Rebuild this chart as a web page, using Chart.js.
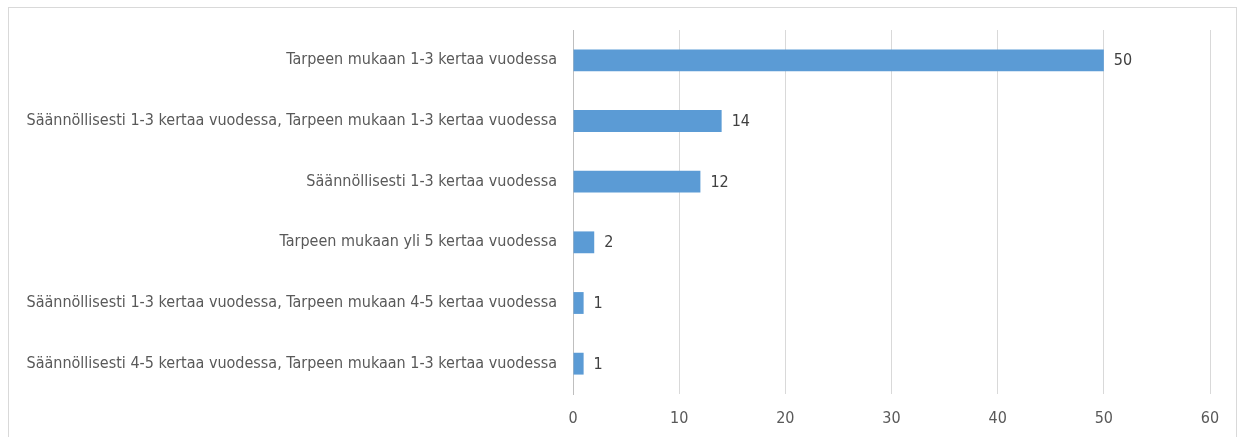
<!DOCTYPE html>
<html>
<head>
<meta charset="utf-8">
<script src="https://cdn.jsdelivr.net/npm/chart.js@4"></script>
<style>
  html, body { margin: 0; padding: 0; background: #fff; overflow: hidden; }
</style>
</head>
<body>
<canvas id="freq" width="1245" height="437"></canvas>
<script>
const categories = [
  'Tarpeen mukaan 1-3 kertaa vuodessa',
  'Säännöllisesti 1-3 kertaa vuodessa, Tarpeen mukaan 1-3 kertaa vuodessa',
  'Säännöllisesti 1-3 kertaa vuodessa',
  'Tarpeen mukaan yli 5 kertaa vuodessa',
  'Säännöllisesti 1-3 kertaa vuodessa, Tarpeen mukaan 4-5 kertaa vuodessa',
  'Säännöllisesti 4-5 kertaa vuodessa, Tarpeen mukaan 1-3 kertaa vuodessa'
]
const counts = [50, 14, 12, 2, 1, 1]
const xMin = 0
const xMax = 60
const xStep = 10

const fontFamily = "'DejaVu Sans Condensed', 'Liberation Sans Narrow', 'Liberation Sans', sans-serif"

// frame around the whole chart
const framePlugin = {
  id: 'frame',
  beforeDraw (chart) {
    const c = chart.ctx
    c.save()
    c.strokeStyle = '#d9d9d9'
    c.lineWidth = 1
    c.strokeRect(8.5, 7.5, 1228, 440)
    c.restore()
  }
}

// value labels right of each bar
const valueLabels = {
  id: 'valueLabels',
  afterDatasetsDraw (chart) {
    const c = chart.ctx
    const meta = chart.getDatasetMeta(0)
    c.save()
    c.font = '16px ' + fontFamily
    c.fillStyle = '#404040'
    c.textAlign = 'left'
    c.textBaseline = 'middle'
    meta.data.forEach((bar, i) => {
      c.fillText(String(counts[i]), bar.x + 10, bar.y + 1)
    })
    c.restore()
  }
}

let freqElement = document.getElementById('freq').getContext('2d')
let freqChart = new Chart(freqElement, {
  type: 'bar',
  data: {
    labels: categories,
    datasets: [
      {
        label: 'Vastaukset',
        data: counts,
        backgroundColor: '#5b9bd5',
        barPercentage: 0.36,
        categoryPercentage: 1
      }
    ]
  },
  options: {
    indexAxis: 'y',
    responsive: false,
    animation: false,
    layout: {
      padding: { left: 0, right: 35, top: 30, bottom: 0 }
    },
    plugins: {
      legend: { display: false },
      tooltip: { enabled: false }
    },
    scales: {
      x: {
        min: xMin,
        max: xMax,
        ticks: {
          stepSize: xStep,
          padding: 15,
          color: '#595959',
          font: { family: fontFamily, size: 16 }
        },
        grid: {
          color: '#d9d9d9',
          drawTicks: false
        },
        border: { display: false },
        afterFit (scale) { scale.height = 43 }
      },
      y: {
        ticks: {
          padding: 16,
          color: '#595959',
          font: { family: fontFamily, size: 16 }
        },
        grid: { display: false, drawTicks: false },
        border: { display: true, color: '#bfbfbf' },
        afterFit (scale) { scale.width = 573 }
      }
    }
  },
  plugins: [framePlugin, valueLabels]
})
</script>
</body>
</html>
